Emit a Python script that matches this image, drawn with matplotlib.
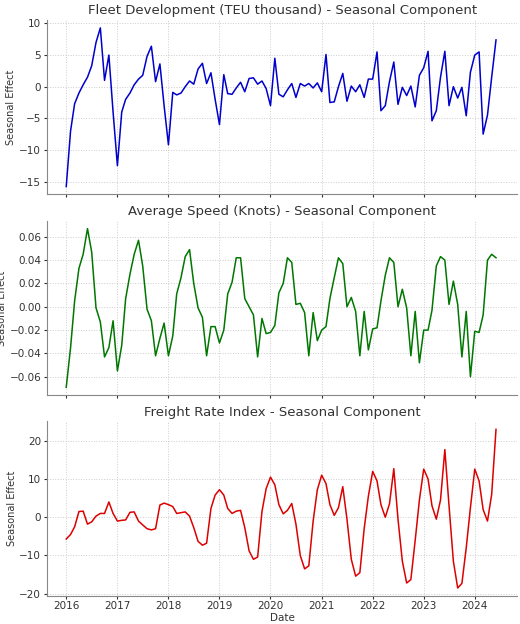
import matplotlib
matplotlib.use("Agg")
import matplotlib.pyplot as plt
import pandas as pd

dates = pd.date_range("2016-01-01", periods=102, freq="MS")

fleet = [-15.8, -7, -2.7, -1, 0.3, 1.5, 3.3, 7, 9.3, 1, 5, -4,
         -12.5, -4, -2, -1, 0.3, 1.2, 1.8, 4.8, 6.4, 0.8, 3.6, -3,
         -9.2, -0.9, -1.3, -1, 0, 0.9, 0.4, 2.8, 3.7, 0.5, 2.2, -2,
         -6, 1.9, -1.1, -1.2, -0.2, 0.7, -0.8, 1.3, 1.4, 0.4, 0.9, -0.3,
         -3, 4.5, -1.2, -1.6, -0.5, 0.5, -1.7, 0.5, 0.1, 0.5, -0.2, 0.6,
         -0.8, 5.1, -2.5, -2.4, 0, 2.1, -2.3, 0.1, -0.8, 0.3, -1.7, 1.2,
         1.2, 5.5, -3.8, -3, 0.8, 3.9, -2.8, -0.1, -1.4, 0.1, -3.2, 1.8,
         3, 5.6, -5.4, -3.8, 1.5, 5.6, -3, 0, -1.8, -0.1, -4.6, 2.3,
         5, 5.5, -7.5, -4.5, 1.5, 7.4]

speed = [-0.069, -0.035, 0.005, 0.033, 0.045, 0.067, 0.047, -0.001, -0.013, -0.043, -0.035, -0.012,
         -0.055, -0.033, 0.007, 0.028, 0.045, 0.057, 0.035, -0.002, -0.012, -0.042, -0.027, -0.014,
         -0.042, -0.025, 0.011, 0.025, 0.043, 0.049, 0.020, -0.001, -0.009, -0.042, -0.017, -0.017,
         -0.031, -0.020, 0.011, 0.021, 0.042, 0.042, 0.007, 0.000, -0.007, -0.043, -0.010, -0.023,
         -0.022, -0.016, 0.012, 0.020, 0.042, 0.038, 0.002, 0.003, -0.005, -0.042, -0.005, -0.029,
         -0.020, -0.017, 0.007, 0.025, 0.042, 0.037, 0.000, 0.008, -0.004, -0.042, -0.004, -0.037,
         -0.019, -0.018, 0.005, 0.027, 0.042, 0.038, 0.000, 0.015, -0.001, -0.042, -0.004, -0.048,
         -0.020, -0.020, -0.003, 0.035, 0.043, 0.040, 0.002, 0.022, 0.002, -0.043, -0.004, -0.060,
         -0.021, -0.022, -0.007, 0.040, 0.045, 0.042]

freight = [-5.7, -4.5, -2.5, 1.5, 1.6, -1.8, -1.2, 0.3, 1, 1, 4, 1,
           -1, -0.8, -0.7, 1.3, 1.4, -1, -2, -3, -3.3, -3, 3.2, 3.7,
           3.3, 2.8, 1, 1.2, 1.4, 0.3, -2.7, -6.3, -7.3, -6.8, 2.3, 5.8,
           7.2, 5.8, 2.3, 1, 1.6, 1.8, -2.7, -8.8, -11, -10.4, 1.5, 7.5,
           10.5, 8.5, 3.3, 0.9, 1.8, 3.6, -1.8, -10, -13.5, -12.7, -1, 7.2,
           11, 8.8, 3.3, 0.5, 2.5, 8, -0.5, -11, -15.4, -14.5, -3, 5.5,
           12, 9.5, 3.3, 0, 3.5, 12.7, -0.5, -11.5, -17.2, -16.3, -6, 4.5,
           12.6, 10, 3, -0.5, 4.5, 17.7, 3, -11.5, -18.5, -17.3, -8, 2.5,
           12.6, 9.5, 2, -1, 6, 23]

titles = ["Fleet Development (TEU thousand) - Seasonal Component",
          "Average Speed (Knots) - Seasonal Component",
          "Freight Rate Index - Seasonal Component"]
colors = ["#0000cc", "#007700", "#dd0000"]

fig, axes = plt.subplots(3, 1, figsize=(5.2, 6.24), dpi=100, sharex=True)
for ax, data, t, c in zip(axes, [fleet, speed, freight], titles, colors):
    ax.plot(dates, data, color=c, lw=1.1)
    ax.set_title(t, fontsize=9.5, color="#333333", pad=4)
    ax.set_ylabel("Seasonal Effect", fontsize=7, color="#333333", labelpad=2)
    ax.grid(True, ls=":", color="#cccccc", lw=0.7)
    for s in ["top", "right"]:
        ax.spines[s].set_visible(False)
    for s in ["left", "bottom"]:
        ax.spines[s].set_color("#888888")
    ax.tick_params(labelsize=7.5, colors="#333333", length=2, pad=2)
axes[2].set_xlabel("Date", fontsize=7.5, color="#333333", labelpad=1)
axes[2].set_xlim(pd.Timestamp("2015-08-15"), pd.Timestamp("2024-11-01"))
fig.subplots_adjust(left=0.09, right=0.995, top=0.968, bottom=0.045, hspace=0.15)
fig.savefig("out.png")
